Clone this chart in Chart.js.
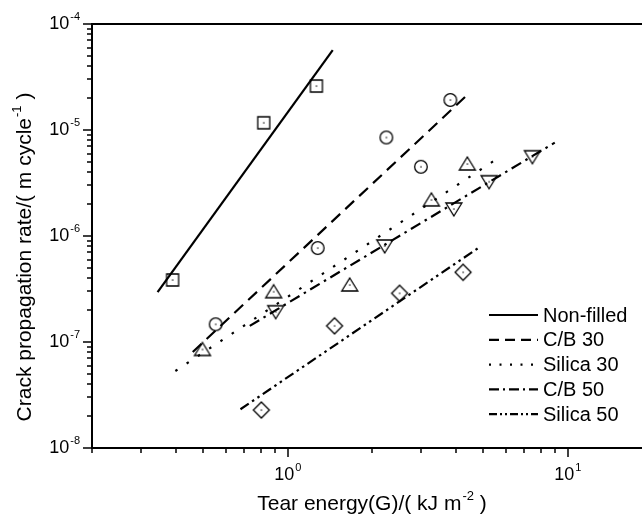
<!DOCTYPE html>
<html>
<head>
<meta charset="utf-8">
<script src="https://cdn.jsdelivr.net/npm/chart.js@4.4.0/dist/chart.umd.min.js"></script>
<style>
  html, body { margin: 0; padding: 0; background: #fff; overflow: hidden; }
  #wrap { width: 642px; height: 518px; overflow: hidden; }
</style>
</head>
<body>
<div id="wrap"><canvas id="c" width="664" height="518"></canvas></div>
<script>
// series labels
const seriesNames = ['Non-filled', 'C/B 30', 'Silica 30', 'C/B 50', 'Silica 50'];

// measured points: tear energy G (kJ/m2) vs crack rate (m/cycle)
const nonFilledG = [0.388, 0.821, 1.266];
const nonFilledRate = [3.85e-7, 1.17e-5, 2.6e-5];
const cb30G = [0.553, 1.28, 2.25, 2.99, 3.81];
const cb30Rate = [1.47e-7, 7.7e-7, 8.5e-6, 4.5e-6, 1.92e-5];
const silica30G = [0.496, 0.891, 1.665, 3.26, 4.38];
const silica30Rate = [8.5e-8, 2.98e-7, 3.45e-7, 2.19e-6, 4.78e-6];
const cb50G = [0.906, 2.22, 3.92, 5.24, 7.48];
const cb50Rate = [1.93e-7, 8.05e-7, 1.8e-6, 3.25e-6, 5.6e-6];
const silica50G = [0.805, 1.47, 2.51, 4.23];
const silica50Rate = [2.28e-8, 1.42e-7, 2.88e-7, 4.55e-7];

// fitted power-law lines (end points)
const nonFilledFitG = [0.343, 1.448];
const nonFilledFitRate = [2.96e-7, 5.68e-5];
const cb30FitG = [0.458, 4.35];
const cb30FitRate = [8.05e-8, 2.11e-5];
const silica30FitG = [0.397, 5.44];
const silica30FitRate = [5.33e-8, 5.1e-6];
const cb50FitG = [0.732, 8.99];
const cb50FitRate = [1.42e-7, 7.6e-6];
const silica50FitG = [0.678, 4.85];
const silica50FitRate = [2.32e-8, 7.87e-7];

// axis ranges
const xMin = 0.2, xMax = 20;
const yMin = 1e-8, yMax = 1e-4;

const pts = (xs, ys) => xs.map((x, i) => ({ x, y: ys[i] }));

const FONT = '"Liberation Sans", Arial, sans-serif';
const INK = '#000';

// hollow Origin-style markers with a dot in the middle
function marker(kind) {
  const s = 20, c = document.createElement('canvas');
  c.width = s; c.height = s;
  const g = c.getContext('2d');
  g.strokeStyle = '#000';
  g.lineWidth = 1.3;
  g.beginPath();
  const m = s / 2;
  if (kind === 'square') g.rect(m - 6, m - 6, 12, 12);
  if (kind === 'circle') g.arc(m, m, 6.3, 0, Math.PI * 2);
  if (kind === 'up') { g.moveTo(m, m - 7); g.lineTo(m + 8, m + 6); g.lineTo(m - 8, m + 6); g.closePath(); }
  if (kind === 'down') { g.moveTo(m, m + 7); g.lineTo(m + 8, m - 6); g.lineTo(m - 8, m - 6); g.closePath(); }
  if (kind === 'diamond') { g.moveTo(m, m - 8); g.lineTo(m + 8, m); g.lineTo(m, m + 8); g.lineTo(m - 8, m); g.closePath(); }
  g.stroke();
  g.fillStyle = '#000';
  g.fillRect(m - 0.6, m - 0.6, 1.3, 1.3);
  return c;
}

const dashes = [[], [12, 7], [2.5, 11], [11, 5, 2.5, 5], [10, 4, 2.5, 4, 2.5, 4]];
const legendDashes = [[], [10, 6], [2, 8.5], [10, 4, 2, 4], [8, 3, 2, 3, 2, 3]];
const markers = ['square', 'circle', 'up', 'down', 'diamond'];
const pointData = [
  pts(nonFilledG, nonFilledRate), pts(cb30G, cb30Rate), pts(silica30G, silica30Rate),
  pts(cb50G, cb50Rate), pts(silica50G, silica50Rate)
];
const fitData = [
  pts(nonFilledFitG, nonFilledFitRate), pts(cb30FitG, cb30FitRate), pts(silica30FitG, silica30FitRate),
  pts(cb50FitG, cb50FitRate), pts(silica50FitG, silica50FitRate)
];

const datasets = [];
seriesNames.forEach((name, i) => {
  datasets.push({
    label: name, data: fitData[i], showLine: true, pointRadius: 0,
    borderColor: INK, borderWidth: 2.2, borderDash: dashes[i], fill: false
  });
});
seriesNames.forEach((name, i) => {
  datasets.push({
    label: name + ' data', data: pointData[i], showLine: false,
    pointStyle: marker(markers[i]), pointRadius: 10
  });
});

// text with a raised exponent; returns the total width
function supText(ctx, base, exp, tail, x, y, size, align) {
  const small = Math.round(size * 0.62);
  ctx.font = size + 'px ' + FONT;
  const wb = ctx.measureText(base).width;
  const wt = ctx.measureText(tail).width;
  ctx.font = small + 'px ' + FONT;
  const we = ctx.measureText(exp).width;
  const w = wb + we + wt + 1;
  let x0 = x;
  if (align === 'right') x0 = x - w;
  if (align === 'center') x0 = x - w / 2;
  ctx.textBaseline = 'middle';
  ctx.textAlign = 'left';
  ctx.font = size + 'px ' + FONT;
  ctx.fillText(base, x0, y);
  ctx.fillText(tail, x0 + wb + we + 1, y);
  ctx.font = small + 'px ' + FONT;
  ctx.fillText(exp, x0 + wb + 1, y - size * 0.38);
  return w;
}

const axesPlugin = {
  id: 'originAxes',
  afterDraw(chart) {
    const { ctx, chartArea: a, scales: { x, y } } = chart;
    ctx.save();
    ctx.fillStyle = INK;
    ctx.strokeStyle = INK;

    // frame
    ctx.lineWidth = 2;
    ctx.strokeRect(a.left, a.top, a.right - a.left, a.bottom - a.top);

    // ticks, outward
    ctx.lineWidth = 1.5;
    for (let e = -1; e <= 1; e++) {
      for (let k = 1; k <= 9; k++) {
        const v = k * Math.pow(10, e);
        if (v < xMin - 1e-9 || v > xMax + 1e-9) continue;
        const px = Math.round(x.getPixelForValue(v));
        const len = k === 1 ? 9 : 5;
        ctx.beginPath();
        ctx.moveTo(px, a.bottom); ctx.lineTo(px, a.bottom + len);
        ctx.stroke();
      }
    }
    for (let e = -8; e <= -4; e++) {
      for (let k = 1; k <= 9; k++) {
        const v = k * Math.pow(10, e);
        if (v > yMax * 1.0001) continue;
        const py = Math.round(y.getPixelForValue(v));
        const len = k === 1 ? 9 : 5;
        ctx.beginPath();
        ctx.moveTo(a.left, py); ctx.lineTo(a.left - len, py);
        ctx.stroke();
      }
    }

    // tick labels
    [0, 1].forEach(e => {
      supText(ctx, '10', String(e), '', x.getPixelForValue(Math.pow(10, e)), a.bottom + 27, 18, 'center');
    });
    [-4, -5, -6, -7, -8].forEach(e => {
      supText(ctx, '10', '-' + Math.abs(e), '', a.left - 12, y.getPixelForValue(Math.pow(10, e)), 18, 'right');
    });

    // axis titles
    supText(ctx, 'Tear energy(G)/( kJ m', '-2', ' )', (a.left + a.right) / 2, 504, 21, 'center');
    ctx.save();
    ctx.translate(25, 257);
    ctx.rotate(-Math.PI / 2);
    supText(ctx, 'Crack propagation rate/( m cycle', '-1', ' )', 0, 0, 21, 'center');
    ctx.restore();

    // legend (line styles only, as in the original)
    ctx.font = '20px ' + FONT;
    ctx.textBaseline = 'middle';
    ctx.textAlign = 'left';
    seriesNames.forEach((name, i) => {
      const ly = 315 + i * 24.8;
      ctx.setLineDash(legendDashes[i]);
      ctx.lineWidth = 2.2;
      ctx.beginPath();
      ctx.moveTo(489, ly); ctx.lineTo(538, ly);
      ctx.stroke();
      ctx.setLineDash([]);
      ctx.fillText(name, 543, ly + 1);
    });
    ctx.restore();
  }
};

new Chart(document.getElementById('c'), {
  type: 'scatter',
  data: { datasets },
  options: {
    responsive: false,
    animation: false,
    layout: { padding: { left: 92, top: 24, right: 12, bottom: 70 } },
    scales: {
      x: { type: 'logarithmic', min: xMin, max: xMax, display: false },
      y: { type: 'logarithmic', min: yMin, max: yMax, display: false }
    },
    plugins: { legend: { display: false }, tooltip: { enabled: false } }
  },
  plugins: [axesPlugin]
});
</script>
</body>
</html>
